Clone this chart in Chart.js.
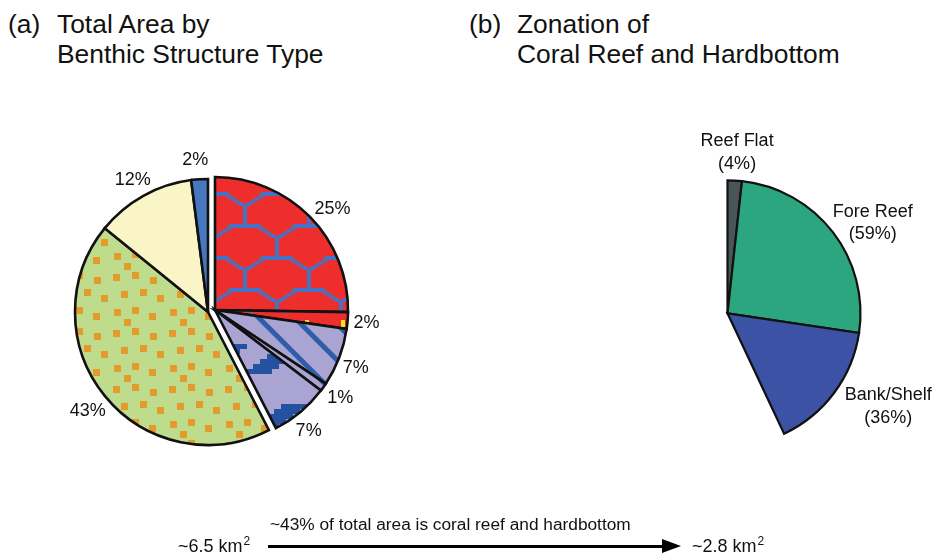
<!DOCTYPE html>
<html>
<head>
<meta charset="utf-8">
<script src="https://cdn.jsdelivr.net/npm/chart.js@4.4.1/dist/chart.umd.min.js"></script>
<style>
  html, body { margin: 0; padding: 0; background: #fff; overflow: hidden; }
  body { width: 936px; height: 555px; position: relative; font-family: "Liberation Sans", Arial, sans-serif; color: #111; }
  canvas { position: absolute; left: 0; top: 0; }
  .title { position: absolute; font-size: 26.4px; line-height: 30px; white-space: nowrap; }
  .note { position: absolute; font-size: 17.3px; line-height: 20px; white-space: nowrap; }
  .area { position: absolute; font-size: 18px; line-height: 20px; white-space: nowrap; }
  .area span { font-size: 12px; position: relative; top: -7px; margin-left: 1px; }
  .shaft { position: absolute; left: 268px; top: 545px; width: 396px; height: 3px; background: #000; }
  .head { position: absolute; left: 662px; top: 539px; width: 0; height: 0;
          border-left: 19px solid #000; border-top: 7.5px solid transparent; border-bottom: 7.5px solid transparent; }
</style>
</head>
<body>
<div class="title" style="left:8px; top:9px;">(a)</div>
<div class="title" style="left:57px; top:9px;">Total Area by<br>Benthic Structure Type</div>
<div class="title" style="left:469px; top:9px;">(b)</div>
<div class="title" style="left:517px; top:9px;">Zonation of<br>Coral Reef and Hardbottom</div>

<canvas id="pieLeft" width="420" height="420"></canvas>
<canvas id="pieRight" width="420" height="420"></canvas>
<canvas id="pieZones" width="420" height="420"></canvas>

<div class="note" style="left:270px; top:514px;">~43% of total area is coral reef and hardbottom</div>
<div class="area" style="left:178px; top:536px;">~6.5 km<span>2</span></div>
<div class="area" style="left:692px; top:536px;">~2.8 km<span>2</span></div>
<div class="shaft"></div>
<div class="head"></div>

<script>
// (a) benthic structure types, clockwise from 12 o'clock
// first group is pulled out slightly to the right, second group stays
const groupOneValues = [25, 2, 7, 1, 7];
const groupTwoValues = [43, 12, 2];

// (b) zonation of coral reef and hardbottom
const zoneNames = ['Reef Flat', 'Fore Reef', 'Bank/Shelf'];
const zoneValues = [4, 59, 36];
const coralShare = 43; // % of total area shown in (b)

const PIE_R = 133;
const black = '#111';
const clear = 'rgba(0,0,0,0)';

function makePattern(w, h, draw) {
  const c = document.createElement('canvas');
  c.width = w; c.height = h;
  const g = c.getContext('2d');
  draw(g, w, h);
  return g.createPattern(c, 'repeat');
}

// red with blue "Y" scales
const redScales = makePattern(64, 64, (g) => {
  g.fillStyle = '#EE2E2C'; g.fillRect(0, 0, 64, 64);
  g.fillStyle = '#4472C4';
  for (const [nx, ny] of [[16, 30], [48, 62]]) {
    for (let i = -1; i <= 1; i++) {
      for (let j = -1; j <= 1; j++) {
        const cx = nx + 64 * i, cy = ny + 64 * j;
        g.fillRect(cx - 16, cy - 2, 32, 4);
        g.fillRect(cx - 2, cy - 22, 4, 22);
        for (let s = 0; s < 4; s++) {
          g.fillRect(cx + 2 + s * 4, cy - 24 - s * 2.5, 4, 4);
          g.fillRect(cx - 6 - s * 4, cy - 24 - s * 2.5, 4, 4);
        }
      }
    }
  }
});

// red with little yellow marks
const redYellow = makePattern(36, 24, (g) => {
  g.fillStyle = '#EE2E2C'; g.fillRect(0, 0, 36, 24);
  g.fillStyle = '#F2E52C'; g.fillRect(12, 4, 4, 7);
  g.fillStyle = '#4472C4'; g.fillRect(26, 18, 6, 3);
});

// lavender with blue diagonal stripes
const lavLines = makePattern(36, 36, (g) => {
  g.fillStyle = '#A9A4D1'; g.fillRect(0, 0, 36, 36);
  g.strokeStyle = '#2F5DA9'; g.lineWidth = 5;
  for (const d of [-36, 0, 36]) {
    g.beginPath(); g.moveTo(-4 + d, -4); g.lineTo(40 + d, 40); g.stroke();
  }
});

// lavender with dark blue stepped blocks
const lavBlocks = makePattern(60, 60, (g) => {
  g.fillStyle = '#A9A4D1'; g.fillRect(0, 0, 60, 60);
  g.fillStyle = '#2551A1';
  for (let k = 0; k < 6; k++) {
    const x = 36 - k * 7, y = 4 + k * 5;
    for (const d of [-60, 0, 60]) g.fillRect(x + d, y, 26, 5);
  }
});

// light green with orange squares
const greenDots = makePattern(56, 56, (g) => {
  g.fillStyle = '#BEDC8C'; g.fillRect(0, 0, 56, 56);
  g.fillStyle = '#E39B2B';
  const spots = [[3, 4], [22, 2], [40, 7], [11, 21], [30, 19], [47, 25], [4, 39], [22, 37], [39, 43], [14, 49]];
  spots.forEach(([x, y]) => g.fillRect(x, y, 7, 7));
});

const sum = (arr) => arr.reduce((a, b) => a + b, 0);

const sliceLabels = {
  id: 'sliceLabels',
  afterDatasetsDraw(chart, args, opts) {
    const ctx = chart.ctx;
    const arcs = chart.getDatasetMeta(0).data;
    ctx.save();
    ctx.font = opts.font;
    ctx.fillStyle = black;
    ctx.textAlign = 'center';
    ctx.textBaseline = 'middle';
    opts.texts.forEach((txt, i) => {
      if (!txt) return;
      const a = arcs[i];
      const mid = (a.startAngle + a.endAngle) / 2;
      const r = a.outerRadius + opts.gap;
      const n = opts.nudge[i] || [0, 0];
      const x = a.x + Math.cos(mid) * r + n[0];
      const y = a.y + Math.sin(mid) * r + n[1];
      const lines = txt.split('\n');
      lines.forEach((line, k) => {
        ctx.fillText(line, x, y + (k - (lines.length - 1) / 2) * opts.lineHeight);
      });
    });
    ctx.restore();
  }
};

function baseOptions(extra) {
  return Object.assign({
    responsive: false,
    animation: false,
    events: [],
    radius: PIE_R,
    layout: { padding: 0 },
    plugins: { legend: { display: false }, tooltip: { enabled: false } }
  }, extra);
}

function placeAt(chart, cx, cy) {
  const a = chart.getDatasetMeta(0).data[0];
  chart.canvas.style.left = (cx - a.x) + 'px';
  chart.canvas.style.top = (cy - a.y) + 'px';
}

// group two (43%, 12%, 2%), with group one left empty
const leftChart = new Chart(document.getElementById('pieLeft'), {
  type: 'pie',
  data: {
    datasets: [{
      data: [sum(groupOneValues)].concat(groupTwoValues),
      backgroundColor: [clear, greenDots, '#FAF5C6', '#4777BF'],
      borderColor: [clear, black, black, black],
      borderWidth: [0, 2.6, 2.6, 2.6],
      borderJoinStyle: 'miter'
    }]
  },
  options: baseOptions({
    plugins: {
      legend: { display: false }, tooltip: { enabled: false },
      sliceLabels: {
        font: '18px "Liberation Sans", Arial, sans-serif', gap: 22, lineHeight: 22,
        texts: [''].concat(groupTwoValues.map(v => v + '%')),
        nudge: [[0, 0], [0, 1], [0, 3], [-3, 3]]
      }
    }
  }),
  plugins: [sliceLabels]
});
placeAt(leftChart, 208, 312);

// group one (25%, 2%, 7%, 1%, 7%), pulled out from the rest
const rightChart = new Chart(document.getElementById('pieRight'), {
  type: 'pie',
  data: {
    datasets: [{
      data: groupOneValues.concat([sum(groupTwoValues)]),
      backgroundColor: [redScales, redYellow, lavLines, lavLines, lavBlocks, clear],
      borderColor: [black, black, black, black, black, clear],
      borderWidth: [2.6, 2.6, 2.6, 2.6, 2.6, 0],
      borderJoinStyle: 'miter'
    }]
  },
  options: baseOptions({
    plugins: {
      legend: { display: false }, tooltip: { enabled: false },
      sliceLabels: {
        font: '18px "Liberation Sans", Arial, sans-serif', gap: 22, lineHeight: 22,
        texts: groupOneValues.map(v => v + '%').concat(['']),
        nudge: [[7, 8], [-3, 1], [-4, 3], [-1, -2], [-6, 2]]
      }
    }
  }),
  plugins: [sliceLabels]
});
placeAt(rightChart, 215, 310);

// (b) only the coral reef share of the circle is drawn
const zoneChart = new Chart(document.getElementById('pieZones'), {
  type: 'pie',
  data: {
    labels: zoneNames,
    datasets: [{
      data: zoneValues,
      backgroundColor: ['#4A5557', '#2CA67F', '#3C52A4'],
      borderColor: black,
      borderWidth: 2.2,
      borderJoinStyle: 'miter'
    }]
  },
  options: baseOptions({
    rotation: 0,
    circumference: coralShare / 100 * 360,
    plugins: {
      legend: { display: false }, tooltip: { enabled: false },
      sliceLabels: {
        font: '18px "Liberation Sans", Arial, sans-serif', gap: 25, lineHeight: 22.5,
        texts: zoneNames.map((n, i) => n + '\n(' + zoneValues[i] + '%)'),
        nudge: [[1, -3], [20, 6], [34, -1]]
      }
    }
  }),
  plugins: [sliceLabels]
});
placeAt(zoneChart, 727, 313);
</script>
</body>
</html>
